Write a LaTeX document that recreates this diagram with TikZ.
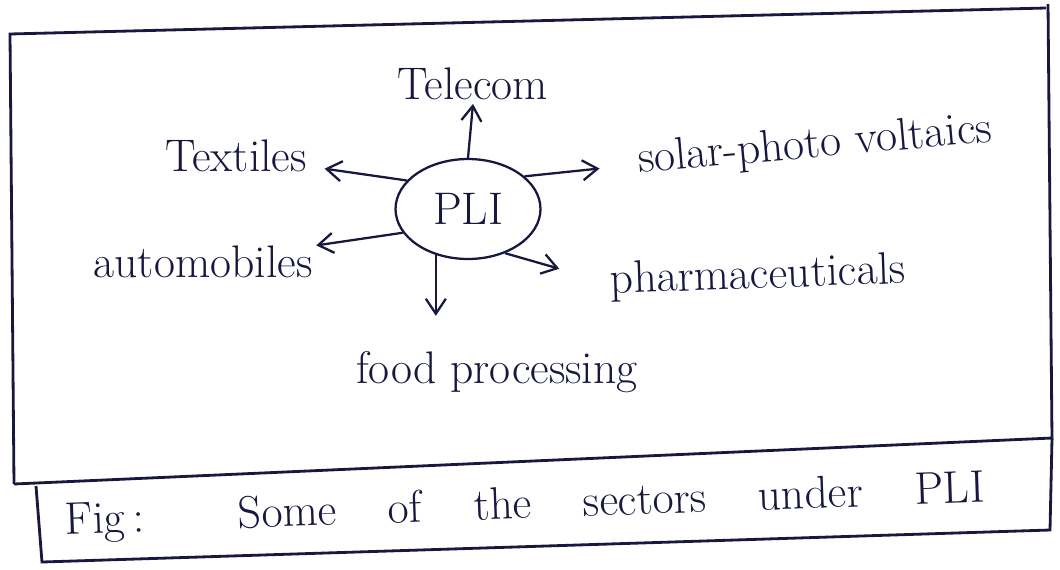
\documentclass[tikz,border=0pt]{standalone}
\usetikzlibrary{arrows.meta,shapes.geometric}
\definecolor{ink}{RGB}{22,24,62}
\begin{document}
\begin{tikzpicture}[x=0.02cm,y=-0.02cm,
  sector/.style={text=ink,font=\fontsize{26}{30}\selectfont,inner sep=2pt},
  barb/.style={-{Straight Barb[length=3mm,width=4mm]},ink,line width=1.3pt},
  frame/.style={ink,line width=1.6pt}]
\useasboundingbox (0,0) rectangle (1060,569);

% frame and caption box
\draw [frame] (14,484) -- (10,34) -- (1046,8);
\draw [frame] (1048,4) -- (1052,440);
\draw [frame] (14,484) -- (1052,438);
\draw [frame] (36,486) -- (42,562) -- (1050,530) -- (1052,438);

% centre and sectors
\node [draw,ellipse,ink,line width=1.3pt,minimum width=2.9cm,minimum height=2cm,sector] (pli) at (468,209) {PLI};
\node [sector] (telecom) at (473,84) {Telecom};
\node [sector] (textiles) at (236,156) {Textiles};
\node [sector,rotate=5] (solar) at (815,146) {solar-photo voltaics};
\node [sector] (auto) at (203,262) {automobiles};
\node [sector,rotate=2] (pharma) at (758,277) {pharmaceuticals};
\node [sector] (food) at (497,372) {food processing};

\draw [barb] (pli.north) -- (telecom.south);
\draw [barb,shorten >=8pt] (pli.155) -- (textiles);
\draw [barb,shorten >=20pt] (pli.30) -- (solar);
\draw [barb] (pli.200) -- (auto);
\draw [barb,shorten >=28pt] (pli.-50) -- (pharma.west);
\draw [barb,shorten >=18pt] (pli.235) -- (pli.235 |- food.north);

% caption
\node [sector,rotate=2] (caption) at (525,507) {\makebox[18.4cm][s]{Fig\,: Some of the sectors under PLI}};
\end{tikzpicture}
\end{document}
